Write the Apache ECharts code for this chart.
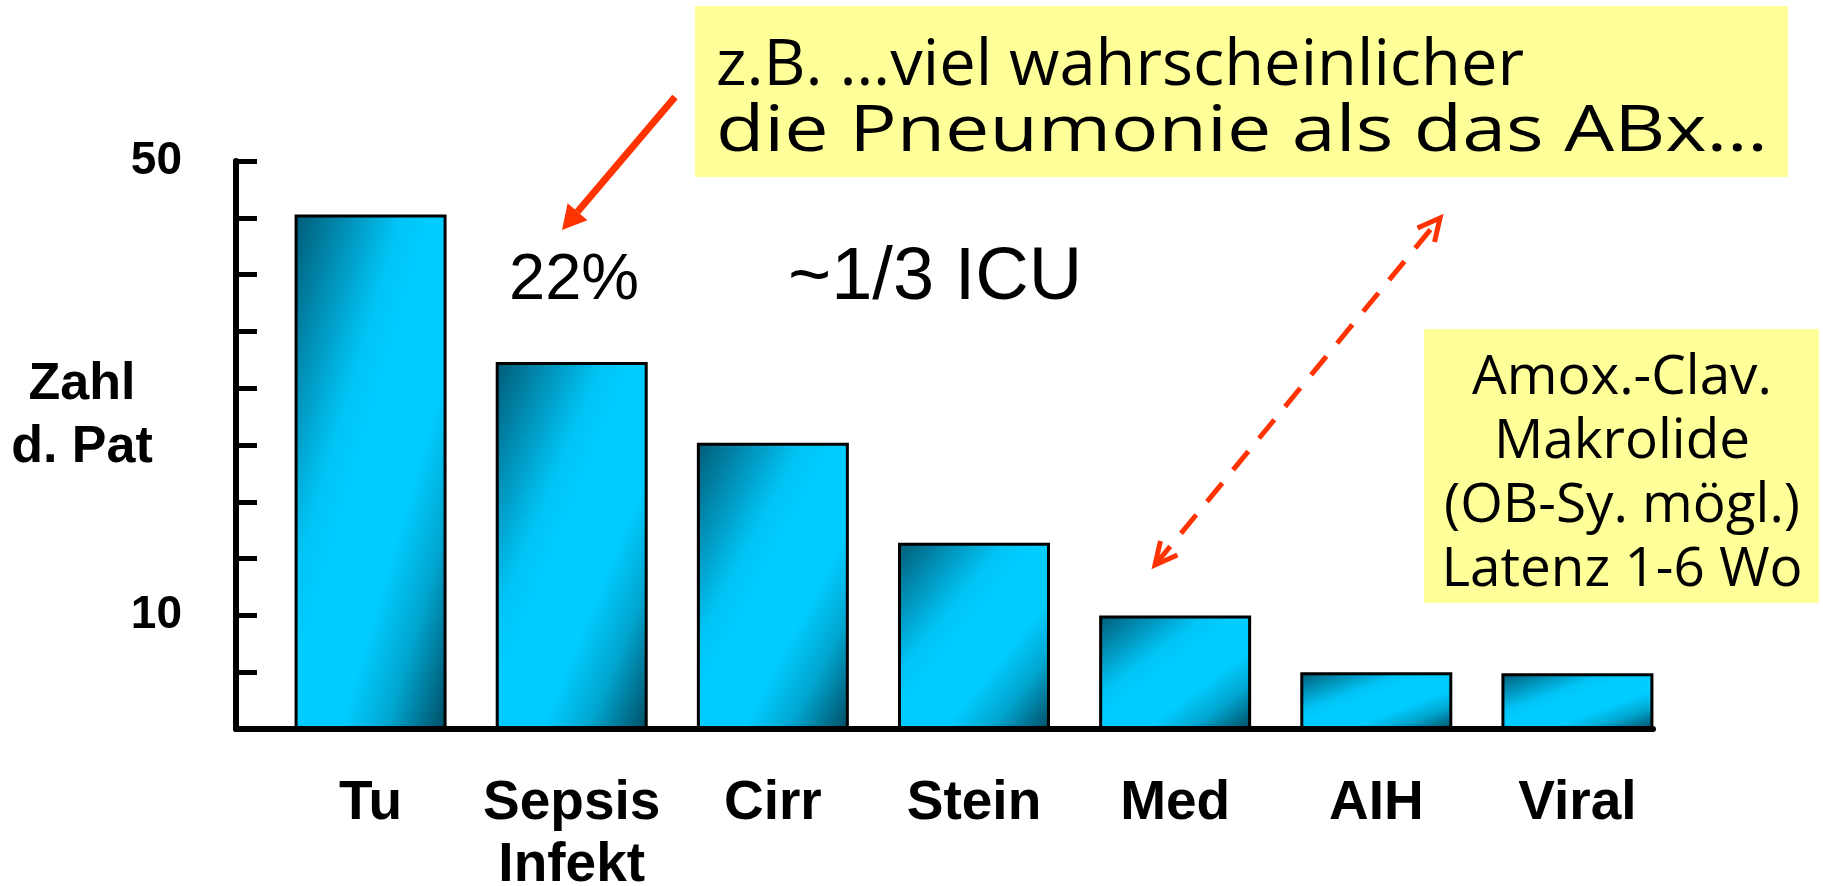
<!DOCTYPE html>
<html>
<head>
<meta charset="utf-8">
<script src="https://cdn.jsdelivr.net/npm/echarts@6.0.0/dist/echarts.min.js"></script>
<style>
  html, body { margin: 0; padding: 0; background: #fff; }
  #main { width: 1823px; height: 886px; }
</style>
</head>
<body>
<div id="main"></div>
<script>
// Daten
var categories = ['Tu', 'Sepsis\nInfekt', 'Cirr', 'Stein', 'Med', 'AIH', 'Viral'];
var patients = [45.3, 32.3, 25.2, 16.4, 10, 5, 4.9];
var yTickLabels = [10, 50];

var boldFont = '"Liberation Sans", Arial, sans-serif';
var handFont = '"Open Sans", sans-serif';
var barWidth = 152;
var red = '#ff3300';

// Verlauf pro Balken: Isolinien entlang der Gegendiagonale (wie in PowerPoint)
function barGradient(w, h) {
  var s = w * w + h * h;
  return {
    type: 'linear', x: 0, y: 0, x2: 2 * h * h / s, y2: 2 * w * w / s,
    colorStops: [
      { offset: 0, color: '#005a75' },
      { offset: 0.35, color: '#00c4f5' },
      { offset: 0.45, color: '#00ccff' },
      { offset: 0.65, color: '#00ccff' },
      { offset: 0.8, color: '#00a6d0' },
      { offset: 1, color: '#004c62' }
    ]
  };
}

function headPoints(tip, from, len, half) {
  var dx = tip[0] - from[0], dy = tip[1] - from[1];
  var L = Math.sqrt(dx * dx + dy * dy);
  var ux = dx / L, uy = dy / L;
  var bx = tip[0] - ux * len, by = tip[1] - uy * len;
  return {
    base: [bx, by],
    pts: [[bx - uy * half, by + ux * half], [tip[0], tip[1]], [bx + uy * half, by - ux * half]]
  };
}

function textWidth(str, font) {
  var ctx = document.createElement('canvas').getContext('2d');
  ctx.font = font;
  return ctx.measureText(str).width;
}

// Pfeile
var a1from = [675, 97], a1tip = [562, 230];
var h1 = headPoints(a1tip, a1from, 24, 13);
var a2lo = [1155, 565], a2hi = [1440, 218];
var h2a = headPoints(a2hi, a2lo, 22, 11);
var h2b = headPoints(a2lo, a2hi, 22, 11);

// Textkästen
var box1Font = '64px ' + handFont;
var box1a = 'z.B. \u2026viel wahrscheinlicher';
var box1b = 'die Pneumonie als das ABx\u2026';
var box1aScale = 808 / textWidth(box1a, box1Font);
var box1bScale = 1052 / textWidth(box1b, box1Font);
var box2Lines = 'Amox.-Clav.\nMakrolide\n(OB-Sy. m\u00f6gl.)\nLatenz 1-6 Wo';
var box2Font = '54px ' + handFont;
var box2Scale = 356 / textWidth('(OB-Sy. m\u00f6gl.)', box2Font);

var chart = echarts.init(document.getElementById('main'));

var option = {
  backgroundColor: '#fff',
  animation: false,
  grid: [
    { left: 270, right: 145, top: 161, bottom: 157, outerBoundsMode: 'none' },
    { left: 236, right: 170, top: 161, bottom: 157, outerBoundsMode: 'none' }
  ],
  xAxis: [
    {
      gridIndex: 0, type: 'category', data: categories,
      axisLine: { show: false }, axisTick: { show: false }, splitLine: { show: false },
      axisLabel: {
        interval: 0, color: '#000', fontSize: 55, fontWeight: 'bold',
        fontFamily: boldFont, lineHeight: 62, margin: 44
      }
    },
    {
      gridIndex: 1, type: 'value', min: 0, max: 1,
      axisLine: { show: true, lineStyle: { color: '#000', width: 6 } },
      axisTick: { show: false }, axisLabel: { show: false }, splitLine: { show: false }
    }
  ],
  yAxis: [
    { gridIndex: 0, type: 'value', min: 0, max: 50, show: false },
    {
      gridIndex: 1, type: 'value', min: 0, max: 50, interval: 5,
      axisLine: { show: true, lineStyle: { color: '#000', width: 6 } },
      axisTick: { show: true, inside: true, length: 21, lineStyle: { color: '#000', width: 5 } },
      splitLine: { show: false },
      axisLabel: {
        color: '#000', fontSize: 46, fontWeight: 'bold', fontFamily: boldFont, margin: 54,
        formatter: function (v) { return yTickLabels.indexOf(v) >= 0 ? String(v) : ''; }
      }
    }
  ],
  series: [
    {
      type: 'bar', xAxisIndex: 0, yAxisIndex: 0, barWidth: barWidth,
      itemStyle: { borderColor: '#000', borderWidth: 3, color: '#00ccff' },
      data: patients
    }
  ],
  graphic: [
    // y-Achsentitel
    {
      type: 'text', x: 82, y: 416,
      style: {
        text: 'Zahl\nd. Pat', fill: '#000', font: 'bold 52px ' + boldFont,
        lineHeight: 63, textAlign: 'center', textVerticalAlign: 'middle'
      }
    },
    {
      type: 'text', x: 509, y: 281,
      style: { text: '22%', fill: '#000', font: '65px ' + boldFont, textAlign: 'left', textVerticalAlign: 'middle' }
    },
    {
      type: 'text', x: 788, y: 279,
      style: { text: '~1/3 ICU', fill: '#000', font: '74px ' + boldFont, textAlign: 'left', textVerticalAlign: 'middle' }
    },
    // gelbe Kästen
    { type: 'rect', shape: { x: 695, y: 6, width: 1093, height: 171 }, style: { fill: '#ffff99' } },
    {
      type: 'text', x: 716, y: 67, scaleX: box1aScale,
      style: { text: box1a, fill: '#000', font: box1Font, textAlign: 'left', textVerticalAlign: 'middle' }
    },
    {
      type: 'text', x: 716, y: 133, scaleX: box1bScale,
      style: { text: box1b, fill: '#000', font: box1Font, textAlign: 'left', textVerticalAlign: 'middle' }
    },
    { type: 'rect', shape: { x: 1424, y: 329, width: 395, height: 274 }, style: { fill: '#ffff99' } },
    {
      type: 'text', x: 1622, y: 475, scaleX: box2Scale,
      style: {
        text: box2Lines, fill: '#000', font: box2Font, lineHeight: 64,
        textAlign: 'center', textVerticalAlign: 'middle'
      }
    },
    // Pfeil 1
    {
      type: 'line', shape: { x1: a1from[0], y1: a1from[1], x2: h1.base[0], y2: h1.base[1] },
      style: { stroke: red, lineWidth: 7 }
    },
    { type: 'polygon', shape: { points: h1.pts }, style: { fill: red } },
    // Pfeil 2 (gestrichelt, beidseitig)
    {
      type: 'line', shape: { x1: a2lo[0], y1: a2lo[1], x2: a2hi[0], y2: a2hi[1] },
      style: { stroke: red, lineWidth: 5, lineDash: [24, 17] }
    },
    { type: 'polyline', shape: { points: h2a.pts }, style: { stroke: red, lineWidth: 5, fill: null } },
    { type: 'polyline', shape: { points: h2b.pts }, style: { stroke: red, lineWidth: 5, fill: null } }
  ]
};

chart.setOption(option);

// Verlauf je nach Balkengröße setzen
var yZero = chart.convertToPixel({ yAxisIndex: 0 }, 0);
var barData = patients.map(function (v) {
  var h = yZero - chart.convertToPixel({ yAxisIndex: 0 }, v);
  return { value: v, itemStyle: { color: barGradient(barWidth, h) } };
});
chart.setOption({ series: [{ data: barData }] });
</script>
</body>
</html>
